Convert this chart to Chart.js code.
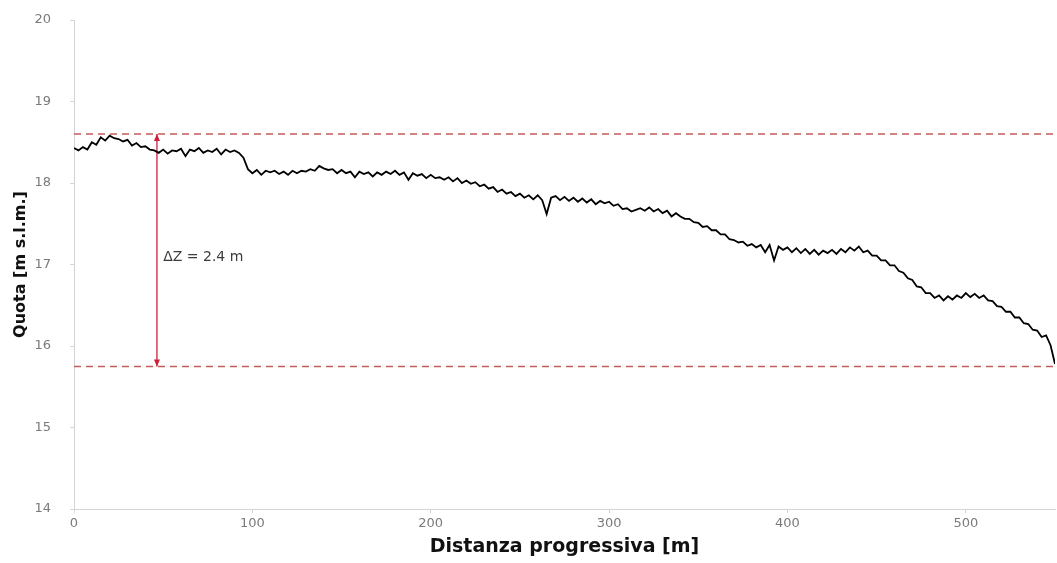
<!DOCTYPE html>
<html><head><meta charset="utf-8">
<script src="https://cdn.jsdelivr.net/npm/chart.js@4"></script>
<style>html,body{margin:0;padding:0;background:#fff}#wrap{width:1057px;height:563px}</style>
</head><body><div id="wrap"><canvas id="c" width="1057" height="563"></canvas></div>
<script>
// survey spacing (m) between consecutive elevation readings
const STEP = 2.5;
// elevation readings [m s.l.m.] every 2.5 m from 0 to 550 m
const elevations = [
  18.43,18.40,18.44,18.41,18.50,18.47,18.56,18.52,18.58,18.55,
  18.54,18.51,18.53,18.46,18.49,18.44,18.45,18.41,18.40,18.37,
  18.41,18.36,18.40,18.39,18.42,18.33,18.41,18.39,18.43,18.37,
  18.40,18.38,18.42,18.35,18.41,18.38,18.40,18.37,18.31,18.17,
  18.12,18.16,18.10,18.15,18.13,18.15,18.11,18.14,18.10,18.15,
  18.12,18.15,18.14,18.17,18.15,18.21,18.18,18.16,18.17,18.12,
  18.16,18.12,18.14,18.07,18.14,18.11,18.13,18.08,18.13,18.10,
  18.14,18.11,18.15,18.10,18.13,18.04,18.12,18.09,18.11,18.06,
  18.10,18.06,18.07,18.04,18.07,18.02,18.06,18.00,18.03,17.99,
  18.01,17.96,17.98,17.93,17.95,17.89,17.92,17.87,17.89,17.84,
  17.87,17.82,17.85,17.80,17.85,17.79,17.62,17.82,17.84,17.79,
  17.83,17.78,17.82,17.77,17.81,17.76,17.80,17.74,17.78,17.75,
  17.77,17.72,17.74,17.68,17.69,17.65,17.67,17.69,17.66,17.70,
  17.65,17.68,17.63,17.66,17.59,17.63,17.59,17.56,17.56,17.52,
  17.51,17.46,17.47,17.42,17.42,17.37,17.37,17.31,17.30,17.27,
  17.28,17.23,17.25,17.21,17.24,17.15,17.24,17.05,17.22,17.18,
  17.21,17.15,17.20,17.14,17.19,17.13,17.18,17.12,17.17,17.14,
  17.18,17.13,17.19,17.15,17.21,17.17,17.22,17.15,17.17,17.11,
  17.11,17.05,17.05,16.99,16.99,16.92,16.90,16.83,16.81,16.73,
  16.72,16.65,16.65,16.59,16.62,16.56,16.61,16.57,16.62,16.59,
  16.65,16.60,16.64,16.59,16.62,16.56,16.55,16.49,16.48,16.42,
  16.42,16.35,16.35,16.28,16.27,16.20,16.19,16.11,16.13,16.01,
  15.78
];
const distances = elevations.map((_, i) => i * STEP);
const xTicks = [0, 100, 200, 300, 400, 500];
const yTicks = [14, 15, 16, 17, 18, 19, 20];
const refLevels = [18.6, 15.75];       // dashed max / min elevation lines
const refRange = [0, 550];
const arrowX = [46.5];                 // distance of the ΔZ arrow
const deltaText = 'ΔZ = 2.4 m';
const deltaTextPos = [50, 17.09];      // [distance, elevation] of label
const xTitle = 'Distanza progressiva [m]';
const yTitle = 'Quota [m s.l.m.]';

const profile = distances.map((d, i) => ({x: d, y: elevations[i]}));
const dashColor = '#c65b5b';
const arrowColor = '#cc1f3a';
const FAM = '"DejaVu Sans", "Liberation Sans", Arial, sans-serif';

const arrowPlugin = {
  id: 'arrowPlugin',
  afterDatasetsDraw(chart) {
    const {ctx, scales: {x, y}} = chart;
    const px = x.getPixelForValue(arrowX[0]);
    const top = y.getPixelForValue(refLevels[0]);
    const bot = y.getPixelForValue(refLevels[1]);
    ctx.save();
    ctx.fillStyle = arrowColor;
    ctx.beginPath();
    ctx.moveTo(px, top); ctx.lineTo(px - 3, top + 7); ctx.lineTo(px + 3, top + 7); ctx.closePath();
    ctx.fill();
    ctx.beginPath();
    ctx.moveTo(px, bot); ctx.lineTo(px - 3, bot - 7); ctx.lineTo(px + 3, bot - 7); ctx.closePath();
    ctx.fill();
    ctx.fillStyle = '#3c3c3c';
    ctx.font = '14px ' + FAM;
    ctx.textAlign = 'left';
    ctx.textBaseline = 'middle';
    ctx.fillText(deltaText, x.getPixelForValue(deltaTextPos[0]), y.getPixelForValue(deltaTextPos[1]));
    ctx.restore();
  }
};

const tickFont = {family: FAM, size: 13};

new Chart(document.getElementById('c'), {
  type: 'line',
  data: {
    datasets: [
      {data: profile, borderColor: '#000', borderWidth: 1.8, pointRadius: 0, tension: 0, order: 1},
      {data: refRange.map(v => ({x: v, y: refLevels[0]})), borderColor: dashColor, borderWidth: 1.5, borderDash: [7, 5], pointRadius: 0, order: 2},
      {data: refRange.map(v => ({x: v, y: refLevels[1]})), borderColor: dashColor, borderWidth: 1.5, borderDash: [7, 5], pointRadius: 0, order: 2},
      {data: refLevels.map(v => ({x: arrowX[0], y: v})), borderColor: arrowColor, borderWidth: 1.3, pointRadius: 0, order: 3}
    ]
  },
  options: {
    responsive: false,
    animation: false,
    devicePixelRatio: 1,
    layout: {padding: {left: 0, right: 2, top: 20, bottom: 0}},
    plugins: {legend: {display: false}, tooltip: {enabled: false}},
    scales: {
      x: {
        type: 'linear', min: 0, max: 550,
        afterBuildTicks: s => { s.ticks = xTicks.map(v => ({value: v})); },
        afterFit: s => { s.height = 54; s.paddingLeft = 0; s.paddingRight = 0; },
        grid: {display: true, drawOnChartArea: false, drawTicks: true, tickLength: 4, color: '#d4d4d4'},
        border: {color: '#d4d4d4', width: 1},
        ticks: {font: tickFont, color: '#7a7a7a', padding: 3, maxRotation: 0},
        title: {display: true, text: xTitle, font: {family: FAM, size: 19, weight: 'bold'}, color: '#111', padding: {top: 0, bottom: 5}}
      },
      y: {
        type: 'linear', min: 14, max: 20,
        afterBuildTicks: s => { s.ticks = yTicks.map(v => ({value: v})); },
        afterFit: s => { s.width = 74; s.paddingTop = 0; s.paddingBottom = 0; },
        grid: {display: true, drawOnChartArea: false, drawTicks: true, tickLength: 4, color: '#d4d4d4'},
        border: {color: '#d4d4d4', width: 1},
        ticks: {font: tickFont, color: '#7a7a7a', padding: 19},
        title: {display: true, text: yTitle, font: {family: FAM, size: 16, weight: 'bold'}, color: '#111', padding: {top: 11, bottom: 0}}
      }
    }
  },
  plugins: [arrowPlugin]
});
</script>
</body></html>
